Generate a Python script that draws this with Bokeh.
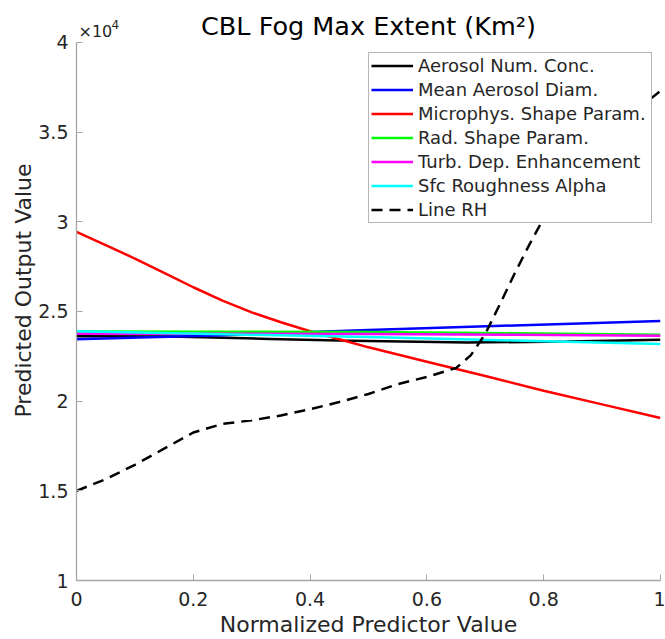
from bokeh.plotting import figure
from bokeh.models import Label, Legend, LegendItem, FixedTicker, Range1d, CustomJSTickFormatter
from bokeh.embed import file_html
from bokeh.resources import INLINE

# ---- data (Predicted output value, Km^2) ----
x_flat = [0.0, 0.25, 0.5, 0.75, 1.0]

x_aerosol_num = [0.0, 0.16, 0.33, 0.45, 0.5, 0.67, 0.84, 1.0]
y_aerosol_num = [23620, 23600, 23470, 23380, 23360, 23270, 23320, 23420]

y_mean_diam = [23450, 23680, 23970, 24220, 24470]

x_micro = [0.0, 0.05, 0.1, 0.15, 0.2, 0.25, 0.3, 0.35, 0.4, 0.45, 0.5, 0.6, 0.7, 0.8, 0.9, 1.0]
y_micro = [29440, 28700, 27950, 27150, 26350, 25600, 24950, 24400, 23900, 23450, 23000,
           22200, 21400, 20580, 19820, 19060]

y_rad_shape = [23880, 23870, 23850, 23790, 23700]
y_turb = [23760, 23760, 23740, 23700, 23640]
y_sfc = [23900, 23730, 23570, 23380, 23190]

x_rh = [0.0, 0.05, 0.1, 0.15, 0.2, 0.25, 0.3, 0.35, 0.4, 0.45, 0.5, 0.55, 0.6, 0.65,
        0.675, 0.7, 0.725, 0.75, 0.775, 0.8, 0.85, 0.9, 0.95, 1.0]
y_rh = [15000, 15650, 16450, 17350, 18250, 18730, 18930, 19200, 19550, 19950, 20400,
        20950, 21350, 21850, 22550, 23750, 25400, 27100, 28700, 30200, 32500, 34400,
        36000, 37300]

x_ticks = [0, 0.2, 0.4, 0.6, 0.8, 1.0]
y_ticks = [10000, 15000, 20000, 25000, 30000, 35000, 40000]

labels = ["Aerosol Num. Conc.", "Mean Aerosol Diam.", "Microphys. Shape Param.",
          "Rad. Shape Param.", "Turb. Dep. Enhancement", "Sfc Roughness Alpha", "Line RH"]

title_text = "CBL Fog Max Extent (Km²)"
exponent_base = "×10"
exponent_power = "4"

FONT = "DejaVu Sans"
TXT = "#262626"
AX = "#a6a6a6"

# axes box: y 1e4..4e4 spans 539 px; extend the frame up to the top of the canvas
PX_TOP = 42
PX_AX = 539
y_top = 40000 + PX_TOP * 30000 / PX_AX

p = figure(width=665, height=639, output_backend="svg", toolbar_location=None,
           x_range=Range1d(0, 1), y_range=Range1d(10000, y_top),
           min_border_left=76, min_border_right=5, min_border_top=0, min_border_bottom=58)
p.outline_line_color = None
p.xgrid.visible = False
p.ygrid.visible = False
p.background_fill_color = "white"
p.border_fill_color = "white"

p.xaxis.ticker = FixedTicker(ticks=x_ticks)
p.yaxis.ticker = FixedTicker(ticks=y_ticks)
p.xaxis.bounds = (0, 1)
p.yaxis.bounds = (10000, 40000)
p.xaxis.formatter = CustomJSTickFormatter(code="return String(Math.round(tick*10)/10)")
p.yaxis.formatter = CustomJSTickFormatter(code="return String(Math.round(tick/1000)/10)")
p.xaxis.axis_label = "Normalized Predictor Value"
p.yaxis.axis_label = "Predicted Output Value"

for ax in (p.xaxis[0], p.yaxis[0]):
    ax.axis_line_color = AX
    ax.axis_line_width = 1.3
    ax.major_tick_line_color = AX
    ax.major_tick_line_width = 1
    ax.major_tick_in = 6
    ax.major_tick_out = 0
    ax.minor_tick_line_color = None
    ax.major_label_text_font = FONT
    ax.major_label_text_font_size = "19px"
    ax.major_label_text_color = TXT
    ax.axis_label_text_font = FONT
    ax.axis_label_text_font_size = "22px"
    ax.axis_label_text_font_style = "normal"
    ax.axis_label_text_color = TXT

p.xaxis.major_label_standoff = 11
p.yaxis.major_label_standoff = 8
p.xaxis.axis_label_standoff = 3
p.yaxis.axis_label_standoff = -1

lw = 2.5
r1 = p.line(x_aerosol_num, y_aerosol_num, line_color="#000000", line_width=lw)
r2 = p.line(x_flat, y_mean_diam, line_color="#0000ff", line_width=lw)
r3 = p.line(x_micro, y_micro, line_color="#ff0000", line_width=lw)
r4 = p.line(x_flat, y_rad_shape, line_color="#00ff00", line_width=lw)
r5 = p.line(x_flat, y_turb, line_color="#ff00ff", line_width=lw)
r6 = p.line(x_flat, y_sfc, line_color="#00ffff", line_width=lw)
r7 = p.line(x_rh, y_rh, line_color="#000000", line_width=lw, line_dash="11 7")

legend = Legend(items=[LegendItem(label=l, renderers=[r]) for l, r in
                       zip(labels, [r1, r2, r3, r4, r5, r6, r7])],
                location=(292, 357), orientation="vertical",
                label_text_font=FONT, label_text_font_size="18px", label_text_color=TXT,
                glyph_width=42, glyph_height=21, label_height=21, label_standoff=5,
                label_width=231, spacing=3, padding=2, margin=0,
                border_line_color="#6e6e6e", border_line_width=1,
                background_fill_color="white", background_fill_alpha=1.0)
p.add_layout(legend)

p.add_layout(Label(x=0.5, y=40000, text=title_text, text_align="center",
                   text_baseline="middle", y_offset=16, text_font=FONT,
                   text_font_size="25.5px", text_color="#000000"))
p.add_layout(Label(x=0, y=40000, text=exponent_base, text_align="left",
                   text_baseline="middle", x_offset=2, y_offset=11, text_font=FONT,
                   text_font_size="16px", text_color=TXT))
p.add_layout(Label(x=0, y=40000, text=exponent_power, text_align="left",
                   text_baseline="middle", x_offset=35, y_offset=18, text_font=FONT,
                   text_font_size="12px", text_color=TXT))

open("out.html", "w").write(file_html(p, INLINE))
